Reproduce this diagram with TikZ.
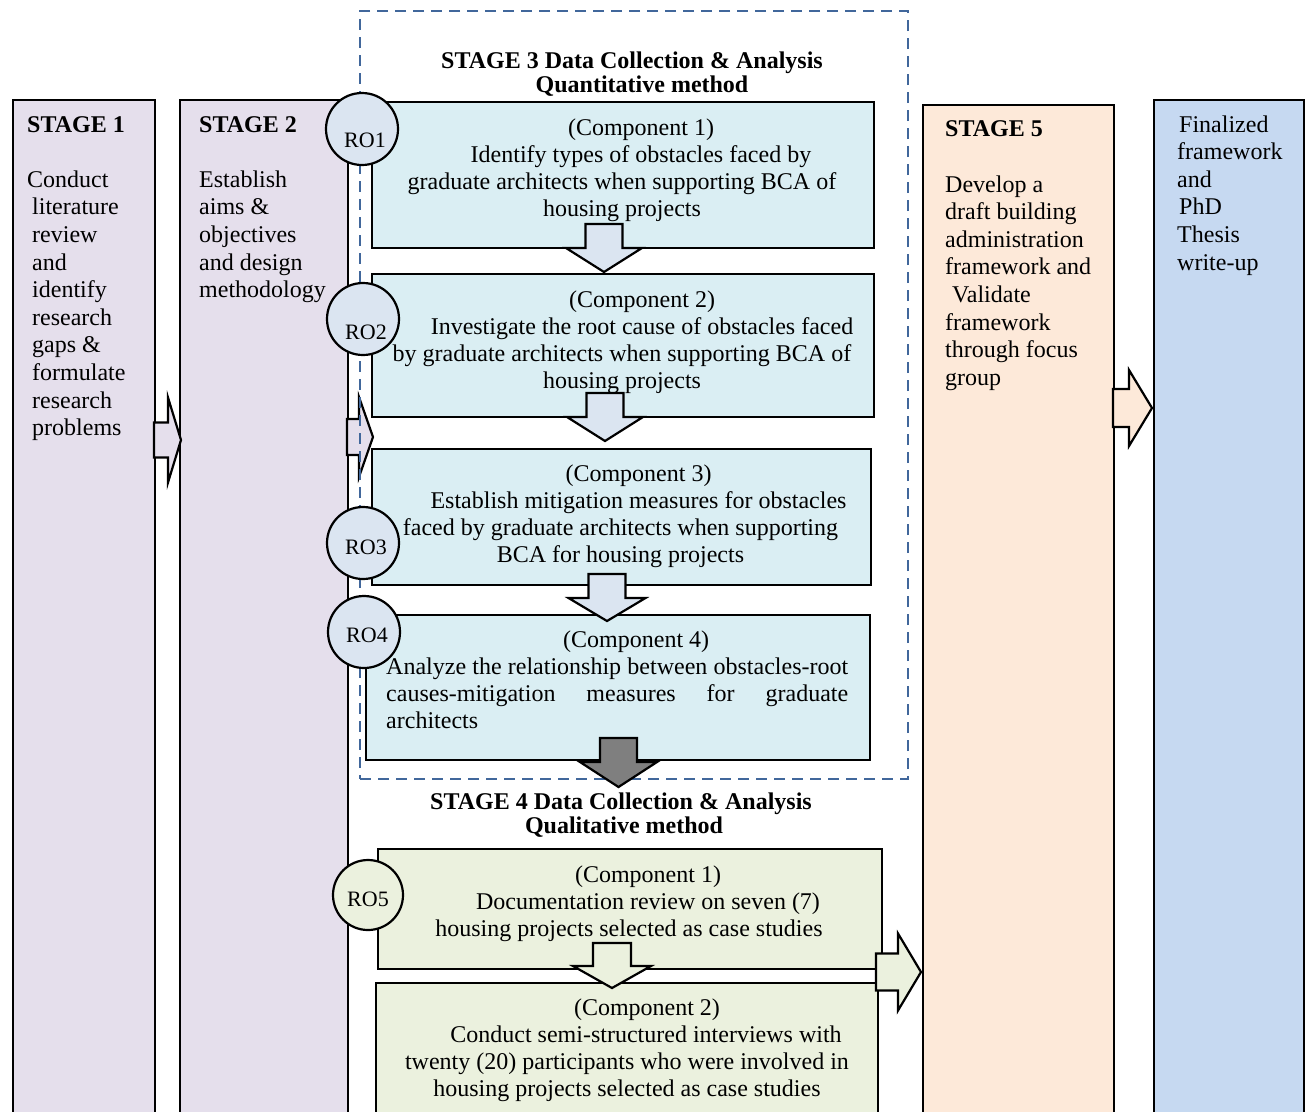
\documentclass[tikz,border=0pt]{standalone}
\usepackage{fontspec}
\setmainfont{Liberation Serif}
\definecolor{lavender}{HTML}{E5DFEC}
\definecolor{paleaqua}{HTML}{DAEEF3}
\definecolor{paleblue}{HTML}{DBE5F1}
\definecolor{paleolive}{HTML}{EBF1DE}
\definecolor{palepeach}{HTML}{FDE9D9}
\definecolor{softblue}{HTML}{C6D9F1}
\definecolor{dashblue}{HTML}{41679B}
\definecolor{arrowgray}{HTML}{7F7F7F}
% block arrows: fill, centre, shaft start, head base, tip, shaft half, head half
\newcommand{\downblock}[7]{%
  \draw[blockarrow, fill=#1] (#2-#6,#3) -- (#2+#6,#3) -- (#2+#6,#4) -- (#2+#7,#4)
    -- (#2,#5) -- (#2-#7,#4) -- (#2-#6,#4) -- cycle;}
\newcommand{\rightblock}[7]{%
  \draw[blockarrow, fill=#1] (#3,#2-#6) -- (#4,#2-#6) -- (#4,#2-#7) -- (#5,#2)
    -- (#4,#2+#7) -- (#4,#2+#6) -- (#3,#2+#6) -- cycle;}
\begin{document}
\begin{tikzpicture}[x=1pt, y=-1pt,
    stagebox/.style = {draw, line width=2.2pt, anchor=north west, inner sep=0pt},
    compbox/.style = {draw, line width=2.2pt, anchor=north west, inner sep=0pt},
    dashframe/.style = {draw=dashblue, line width=2pt, dash pattern=on 11pt off 7pt,
                        anchor=north west, inner sep=0pt},
    robubble/.style = {circle, draw, line width=2.2pt, fill=paleblue,
                       minimum size=72pt, inner sep=0pt},
    rotext/.style = {inner sep=0pt, font=\fontsize{22}{24}\selectfont},
    bodytext/.style = {inner sep=0pt, align=left, anchor=base west,
                       font=\fontsize{24}{27.6}\selectfont},
    comptext/.style = {inner sep=0pt, align=center, anchor=base,
                       font=\fontsize{24}{27}\selectfont},
    titletext/.style = {inner sep=0pt, align=center, anchor=base,
                        font=\bfseries\fontsize{24}{24}\selectfont},
    blockarrow/.style = {draw, line width=2.2pt, line join=miter}]
  \useasboundingbox (0,0) rectangle (1308,1111);
  \clip (0,0) rectangle (1308,1111);

  % stage columns
  \node[stagebox, fill=lavender, minimum width=142pt, minimum height=1030pt] (stage1) at (12,99) {};
  \node[stagebox, fill=lavender, minimum width=168pt, minimum height=1030pt] (stage2) at (179,99) {};
  \node[stagebox, fill=palepeach, minimum width=191pt, minimum height=1030pt] (stage5) at (922,104) {};
  \node[stagebox, fill=softblue, minimum width=150pt, minimum height=1030pt] (final) at (1153,99) {};

  \rightblock{lavender}{440}{154}{168}{181}{17.5}{42.5}
  \rightblock{lavender}{437}{347}{359}{373}{18}{40}
  \rightblock{palepeach}{408}{1113}{1129}{1152}{19}{38}

  % stage 3 frame
  \node[dashframe, minimum width=548pt, minimum height=768pt] (frame3) at (359,10) {};

  % components
  \node[compbox, fill=paleaqua, minimum width=502pt, minimum height=146pt] (c1) at (371,101) {};
  \node[compbox, fill=paleaqua, minimum width=502pt, minimum height=143pt] (c2) at (371,273) {};
  \node[compbox, fill=paleaqua, minimum width=499pt, minimum height=136pt] (c3) at (371,448) {};
  \node[compbox, fill=paleaqua, minimum width=504pt, minimum height=145pt] (c4) at (365,614) {};
  \node[compbox, fill=paleolive, minimum width=504pt, minimum height=120pt] (q1) at (377,848) {};
  \node[compbox, fill=paleolive, minimum width=502pt, minimum height=150pt] (q2) at (375,982) {};

  \downblock{paleblue}{604}{224}{248}{272}{18.5}{38}
  \downblock{paleblue}{605}{393}{417}{441}{18.5}{38}
  \downblock{paleblue}{607}{574}{598}{621}{18.5}{38.5}
  \downblock{arrowgray}{618.5}{738}{762}{787}{18.5}{38.5}
  \downblock{paleolive}{612}{943}{966}{988}{19}{39}
  \rightblock{paleolive}{972}{876}{898}{921}{18.5}{38.5}

  % research objectives
  \node[robubble] (ro1) at (362,129) {};
  \node[robubble] (ro2) at (363,319) {};
  \node[robubble] (ro3) at (363,543) {};
  \node[robubble] (ro4) at (364,632) {};
  \node[robubble, fill=paleolive, minimum size=70pt] (ro5) at (368,895) {};
  \node[rotext, xshift=3pt, yshift=-11pt] (ro1txt) at (ro1) {RO1};
  \node[rotext, xshift=3pt, yshift=-13pt] (ro2txt) at (ro2) {RO2};
  \node[rotext, xshift=3pt, yshift=-4pt] (ro3txt) at (ro3) {RO3};
  \node[rotext, xshift=3pt, yshift=-3pt] (ro4txt) at (ro4) {RO4};
  \node[rotext, yshift=-4pt] (ro5txt) at (ro5) {RO5};

  % texts (anchor base = last line)
  \node[bodytext] (stage1txt) at (27,435.6) {\textbf{STAGE 1}\\[27.6pt]Conduct\\
    \hspace*{5pt}literature\\ \hspace*{5pt}review\\ \hspace*{5pt}and\\ \hspace*{5pt}identify\\
    \hspace*{5pt}research\\ \hspace*{5pt}gaps \&\\ \hspace*{5pt}formulate\\
    \hspace*{5pt}research\\ \hspace*{5pt}problems};
  \node[bodytext] (stage2txt) at (199,297.6) {\textbf{STAGE 2}\\[27.6pt]Establish\\
    aims \&\\ objectives\\ and design\\ methodology};
  \node[bodytext] (stage5txt) at (945,385.2) {\textbf{STAGE 5}\\[27.6pt]Develop a\\
    draft building\\ administration\\ framework and\\ \hspace*{7pt}Validate\\
    framework\\ through focus\\ group};
  \node[bodytext] (finaltxt) at (1177,270) {\hspace*{2pt}Finalized\\ framework\\ and\\
    \hspace*{2pt}PhD\\ Thesis\\ write-up};

  \node[titletext] (title3) at (632,92.5) {STAGE 3 Data Collection \& Analysis\\
    \hspace*{20pt}Quantitative method};
  \node[titletext] (title4) at (621,833.5) {STAGE 4 Data Collection \& Analysis\\
    \hspace*{6pt}Qualitative method};

  \node[comptext] (c1txt) at (622,216) {\hspace*{38pt}(Component 1)\\
    \hspace*{38pt}Identify types of obstacles faced by\\
    graduate architects when supporting BCA of\\ housing projects};
  \node[comptext] (c2txt) at (622,388) {\hspace*{40pt}(Component 2)\\
    \hspace*{40pt}Investigate the root cause of obstacles faced\\
    by graduate architects when supporting BCA of\\ housing projects};
  \node[comptext] (c3txt) at (620.5,562) {\hspace*{36pt}(Component 3)\\
    \hspace*{36pt}Establish mitigation measures for obstacles\\
    faced by graduate architects when supporting\\ BCA for housing projects};
  \node[comptext, align=left, anchor=base west] (c4txt) at (386,728)
    {\makebox[462pt]{\hspace*{38pt}(Component 4)}\\
    \makebox[462pt][s]{Analyze the relationship between obstacles-root}\\
    \makebox[462pt][s]{causes-mitigation measures for graduate}\\ architects};
  \node[comptext] (q1txt) at (629,936) {\hspace*{38pt}(Component 1)\\
    \hspace*{38pt}Documentation review on seven (7)\\
    housing projects selected as case studies};
  \node[comptext] (q2txt) at (627,1096) {\hspace*{40pt}(Component 2)\\
    \hspace*{38pt}Conduct semi-structured interviews with\\
    twenty (20) participants who were involved in\\
    housing projects selected as case studies};
\end{tikzpicture}
\end{document}
